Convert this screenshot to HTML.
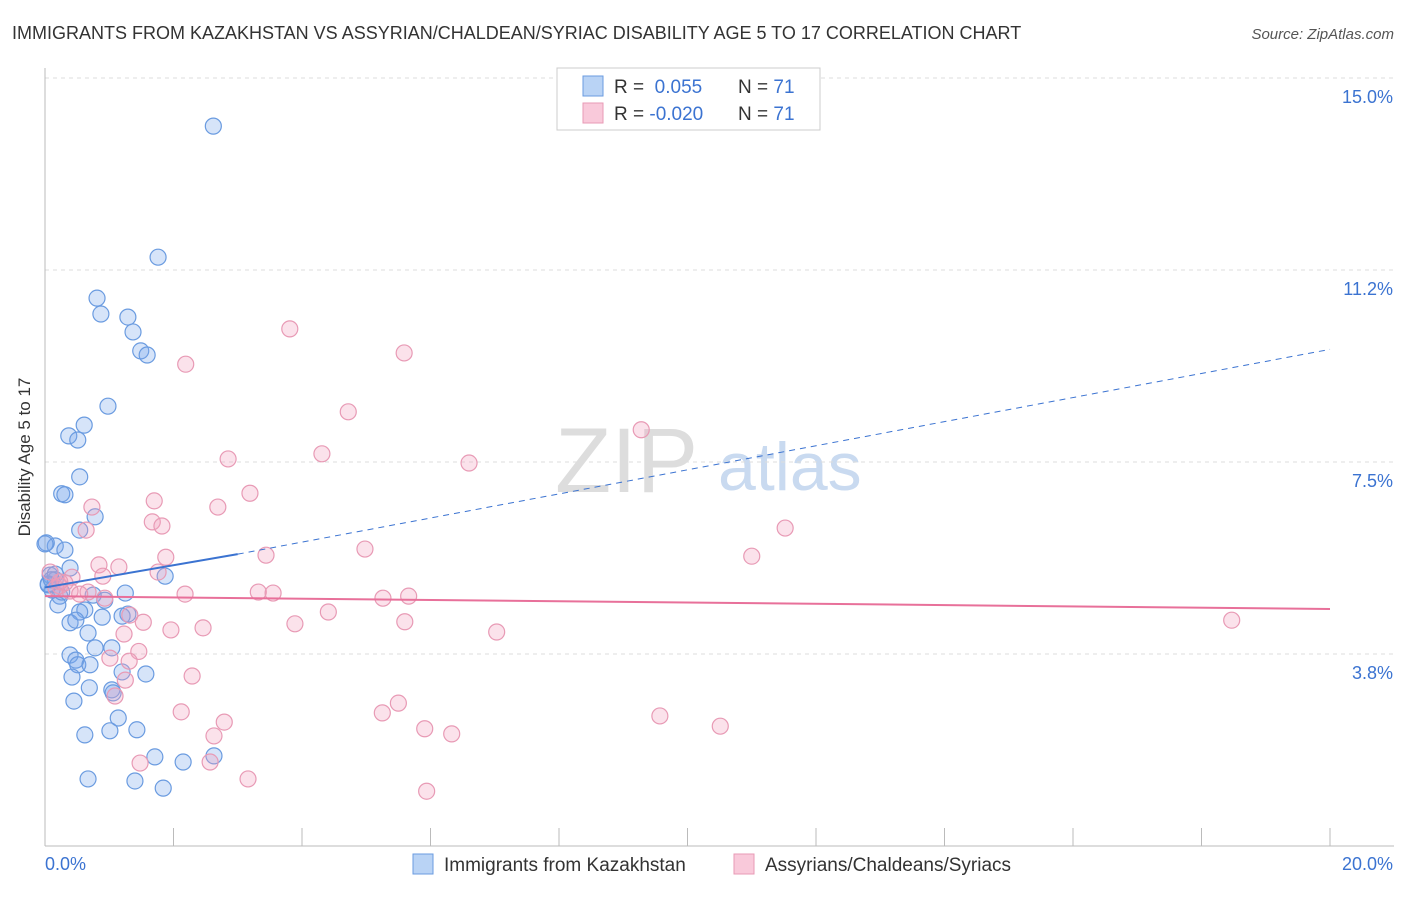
<!DOCTYPE html>
<html><head><meta charset="utf-8"><style>
body{margin:0;background:#fff;font-family:"Liberation Sans",sans-serif}
svg text{font-family:"Liberation Sans",sans-serif}
</style></head><body>
<svg id="chart" width="1406" height="892" viewBox="0 0 1406 892">
<text x="12" y="39" font-size="18" fill="#333">IMMIGRANTS FROM KAZAKHSTAN VS ASSYRIAN/CHALDEAN/SYRIAC DISABILITY AGE 5 TO 17 CORRELATION CHART</text>
<text x="1394" y="39" font-size="15" fill="#555" font-style="italic" text-anchor="end">Source: ZipAtlas.com</text>
<g><text x="555" y="492" font-size="92" fill="#ddd" font-family="Liberation Serif">ZIP</text><text x="718" y="490" font-size="68" fill="#c9daf0">atlas</text></g>
<g id="grid"></g><g id="axes"></g><g id="pts"></g><g id="trend"></g>
<text x="30" y="457" font-size="17" fill="#333" text-anchor="middle" transform="rotate(-90 30 457)">Disability Age 5 to 17</text>
<g>
<rect x="557" y="68" width="263" height="62" fill="#fff" stroke="#ccc"/>
<rect x="583" y="76" width="20" height="20" fill="#b9d3f5" stroke="#6a9be0"/>
<rect x="583" y="103" width="20" height="20" fill="#f9c9da" stroke="#e89ab5"/>
<text x="614" y="93" font-size="19" fill="#333">R = <tspan fill="#3b73d1">&#160;0.055</tspan><tspan x="738">N = </tspan><tspan fill="#3b73d1">71</tspan></text>
<text x="614" y="120" font-size="19" fill="#333">R = <tspan fill="#3b73d1">-0.020</tspan><tspan x="738">N = </tspan><tspan fill="#3b73d1">71</tspan></text>
</g>
<g>
<rect x="413" y="854" width="20" height="20" fill="#b9d3f5" stroke="#6a9be0"/>
<text x="444" y="871" font-size="19" fill="#333">Immigrants from Kazakhstan</text>
<rect x="734" y="854" width="20" height="20" fill="#f9c9da" stroke="#e89ab5"/>
<text x="765" y="871" font-size="19" fill="#333">Assyrians/Chaldeans/Syriacs</text>
</g>
</svg>
<script>
const yTicks=[3.75,7.5,11.25,15];
const yTickLabels=["3.8%","7.5%","11.2%","15.0%"];
const xTickLabels=["0.0%","20.0%"];
const blueX=[2.62,1.76,0.81,0.87,1.29,1.37,1.49,1.59,0.98,0.61,0.37,0.51,0.54,0.26,0.31,0.78,0.54,0.16,0.31,0.02,0.39,1.87,0.08,0.16,0.05,0.11,0.23,0.20,1.25,0.75,0.93,0.62,0.54,1.29,1.20,0.89,0.39,0.48,0.67,1.04,0.78,0.39,0.48,0.51,0.70,1.57,1.20,0.42,0.69,1.04,1.06,0.45,1.14,1.01,1.43,0.62,1.71,2.63,2.15,0.67,1.40,1.84,0.05,0.16,0.26,0.0,0.1];
const blueY=[14.06,11.5,10.7,10.39,10.33,10.04,9.67,9.59,8.59,8.22,8.01,7.93,7.21,6.88,6.86,6.43,6.17,5.86,5.78,5.92,5.43,5.27,5.29,5.2,5.12,5.0,4.88,4.71,4.94,4.9,4.8,4.61,4.57,4.53,4.49,4.47,4.36,4.41,4.16,3.87,3.87,3.73,3.63,3.54,3.54,3.36,3.4,3.3,3.09,3.05,2.99,2.83,2.5,2.25,2.27,2.17,1.74,1.76,1.64,1.31,1.27,1.13,5.1,5.31,4.96,5.9,5.2];
const pinkX=[3.81,2.19,5.59,4.72,9.28,2.85,4.31,6.6,3.19,1.7,2.69,0.73,1.67,1.82,0.64,11.52,4.98,3.44,1.88,11.0,0.84,1.15,0.9,0.42,1.76,0.23,0.39,0.67,2.18,3.32,3.55,5.26,5.66,0.93,1.32,1.53,4.41,3.89,5.6,1.96,2.46,7.03,1.23,18.47,1.46,1.01,1.31,2.29,1.25,1.09,5.5,2.12,5.25,9.57,2.79,5.91,6.33,10.51,2.63,1.48,2.57,3.16,5.94,0.17,0.31,0.54,0.08,0.23];
const pinkY=[10.1,9.41,9.63,8.48,8.13,7.56,7.66,7.48,6.89,6.74,6.62,6.62,6.33,6.25,6.17,6.21,5.8,5.68,5.64,5.66,5.49,5.45,5.27,5.25,5.35,5.08,4.98,4.96,4.92,4.96,4.94,4.84,4.88,4.84,4.51,4.37,4.57,4.34,4.38,4.22,4.26,4.18,4.14,4.41,3.8,3.67,3.61,3.32,3.24,2.93,2.79,2.62,2.6,2.54,2.42,2.29,2.19,2.34,2.15,1.62,1.64,1.31,1.07,5.04,5.14,4.92,5.35,5.16];
const blueTrend=[[0,5.05],[3.0,5.7],[20,9.7]];
const pinkTrend=[[0,4.88],[20,4.63]];
const X0=45,X1=1330,YB=846,PY=51.2;
const sx=v=>X0+(v/20)*(X1-X0), sy=v=>YB-v*PY;
const NS="http://www.w3.org/2000/svg";
function mk(p,t,a){const e=document.createElementNS(NS,t);for(const k in a)e.setAttribute(k,a[k]);document.getElementById(p).appendChild(e);return e;}
yTicks.forEach((t,i)=>{
 const l=mk('grid','line',{x1:X0,x2:1394,y1:sy(t),y2:sy(t),stroke:'#ddd','stroke-dasharray':'4,4'});
 
 
 const tx=mk('grid','text',{x:1393,y:sy(t)+25,'font-size':18,fill:'#3b73d1','text-anchor':'end'});
 tx.textContent=yTickLabels[i];
 
 
});
const ax=mk('axes','line',{x1:X0,x2:1394,y1:YB,y2:YB,stroke:'#bbb'});


const ay=mk('axes','line',{x1:X0,x2:X0,y1:68,y2:YB,stroke:'#bbb'});


for(let i=0;i<=10;i++){
 const t=mk('axes','line',{x1:sx(i*2),x2:sx(i*2),y1:YB,y2:YB-18,stroke:'#bbb'});
 
 
}
[[0,'start',X0],[1,'end',1393]].forEach(([i,a,x])=>{
 const t=mk('axes','text',{x:x,y:870,'font-size':18,fill:'#3b73d1','text-anchor':a});
 t.textContent=xTickLabels[i];
 
 
});
function pts(xs,ys,fill,stroke,name){xs.forEach((x,i)=>{
 const c=mk('pts','circle',{cx:sx(x),cy:sy(ys[i]),r:8,fill:fill,stroke:stroke,'stroke-width':1.2});
 
 
});}
pts(blueX,blueY,'rgba(120,165,235,0.3)','#6a9be0','blue-point');
pts(pinkX,pinkY,'rgba(242,160,190,0.3)','#e89ab5','pink-point');
const b1=mk('trend','line',{x1:sx(blueTrend[0][0]),y1:sy(blueTrend[0][1]),x2:sx(blueTrend[1][0]),y2:sy(blueTrend[1][1]),stroke:'#3b73d1','stroke-width':2});


const b2=mk('trend','line',{x1:sx(blueTrend[1][0]),y1:sy(blueTrend[1][1]),x2:sx(blueTrend[2][0]),y2:sy(blueTrend[2][1]),stroke:'#3b73d1','stroke-width':1,'stroke-dasharray':'6,5'});


const p1=mk('trend','line',{x1:sx(pinkTrend[0][0]),y1:sy(pinkTrend[0][1]),x2:sx(pinkTrend[1][0]),y2:sy(pinkTrend[1][1]),stroke:'#e8709a','stroke-width':2});


</script>
</body></html>
